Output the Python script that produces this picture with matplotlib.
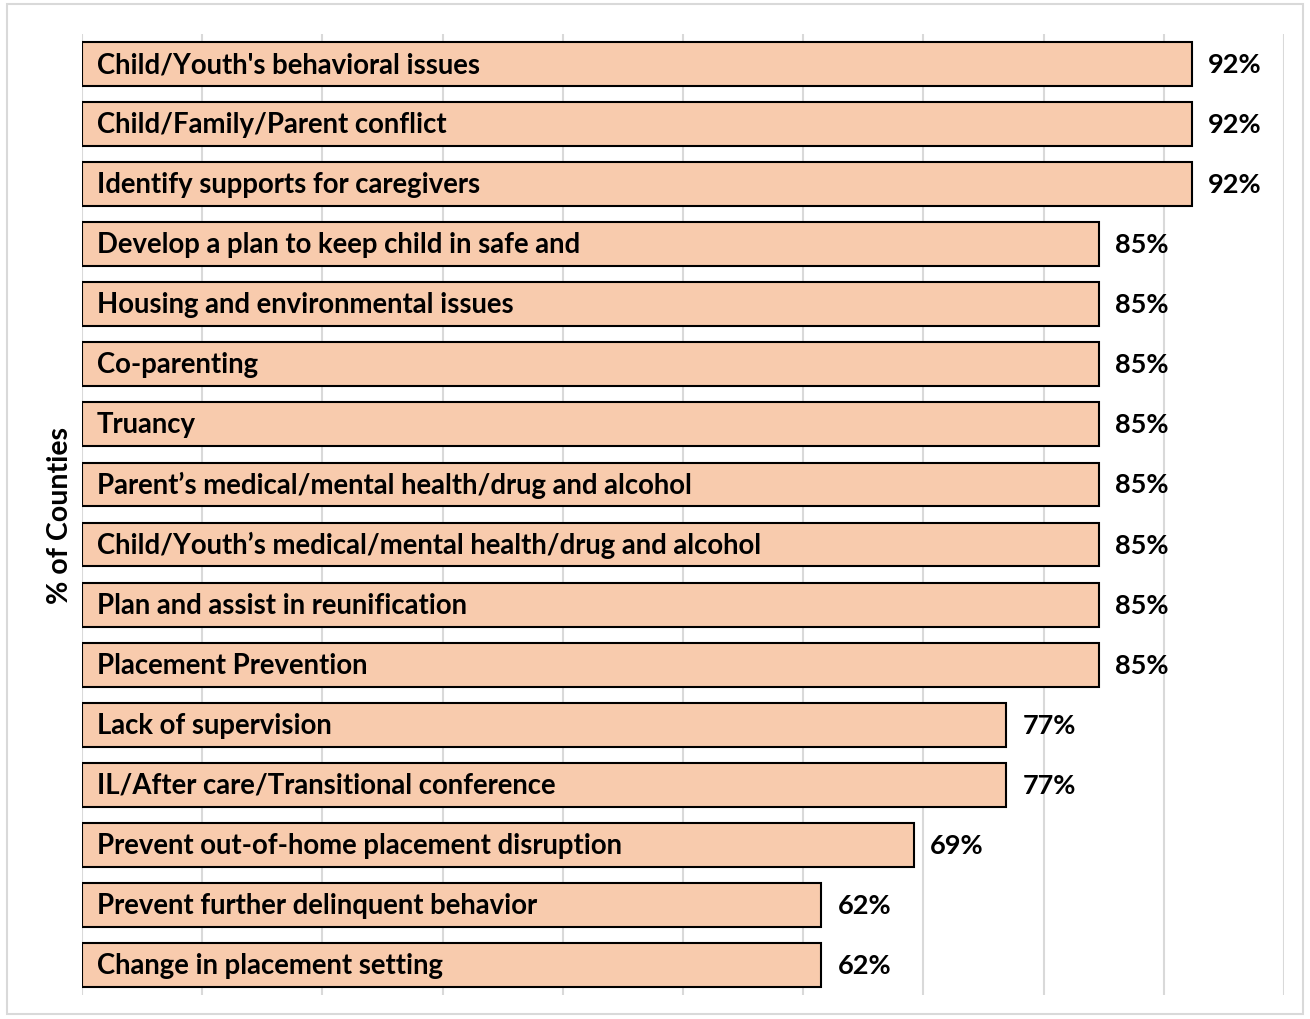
import matplotlib.pyplot as plt
from matplotlib.patches import Rectangle

# categories top to bottom, share of counties (%)
categories = [
    "Child/Youth's behavioral issues",
    "Child/Family/Parent conflict",
    "Identify supports for caregivers",
    "Develop a plan to keep child in safe and",
    "Housing and environmental issues",
    "Co-parenting",
    "Truancy",
    "Parent\u2019s medical/mental health/drug and alcohol",
    "Child/Youth\u2019s medical/mental health/drug and alcohol",
    "Plan and assist in reunification",
    "Placement Prevention",
    "Lack of supervision",
    "IL/After care/Transitional conference",
    "Prevent out-of-home placement disruption",
    "Prevent further delinquent behavior",
    "Change in placement setting",
]
values = [92.3, 92.3, 92.3, 84.6, 84.6, 84.6, 84.6, 84.6, 84.6, 84.6, 84.6,
          76.9, 76.9, 69.2, 61.5, 61.5]
value_labels = ["92%", "92%", "92%", "85%", "85%", "85%", "85%", "85%", "85%",
                "85%", "85%", "77%", "77%", "69%", "62%", "62%"]

plt.rcParams['font.family'] = ['Lato', 'DejaVu Sans']

fig = plt.figure(figsize=(13.1, 10.2), dpi=100)
ax = fig.add_axes([0.0626, 0.0235, 0.9176, 0.9422])

ypos = list(range(len(categories)))
ax.barh(ypos, values, height=0.73, color='#F8CBAD', edgecolor='black',
        linewidth=1.5, zorder=2)

for y, v, name, lab in zip(ypos, values, categories, value_labels):
    ax.text(1.25, y, name, va='center', ha='left', fontsize=19.8,
            fontweight='bold', zorder=3)
    ax.text(v + 1.35, y, lab, va='center', ha='left', fontsize=19.5,
            fontweight='bold')

ax.set_xlim(0, 100)
ax.set_ylim(len(categories) - 0.5, -0.5)
ax.set_xticks(range(0, 101, 10))
ax.set_xticklabels([])
ax.set_yticks([])
ax.tick_params(axis='x', length=0)
ax.grid(axis='x', color='#D9D9D9', linewidth=1.5, zorder=0)
ax.set_axisbelow(True)
for s in ax.spines.values():
    s.set_visible(False)

fig.text(0.046, 0.495, '% of Counties', rotation=90, va='center', ha='center',
         fontsize=20.5, fontweight='bold')

# light frame round the chart area
fig.patches.append(Rectangle((0.005, 0.005), 0.99, 0.99, transform=fig.transFigure,
                             fill=False, edgecolor='#D9D9D9', linewidth=1.5))

fig.savefig('out.png', dpi=100)
